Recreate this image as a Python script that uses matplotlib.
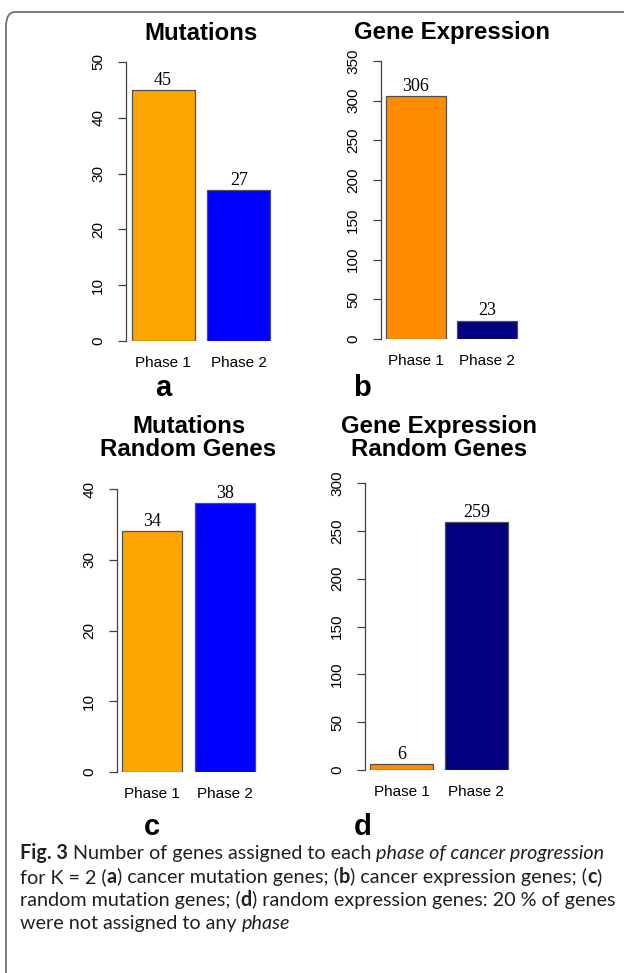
import matplotlib.pyplot as plt
from matplotlib.patches import FancyBboxPatch

phases = ["Phase 1", "Phase 2"]
mut_counts = [45, 27]
expr_counts = [306, 23]
mut_random_counts = [34, 38]
expr_random_counts = [6, 259]

mut_colors = ["#FFA500", "#0000FF"]
expr_colors = ["#FF8C00", "#000080"]

W, H = 624, 973
fig = plt.figure(figsize=(W / 100, H / 100), dpi=100)

# rounded frame, only the top-left corner is visible
frame = FancyBboxPatch((6 / W, -20 / H), 700 / W, (H + 14) / H - 6 / H,
                       boxstyle="round,pad=0,rounding_size=0.015",
                       transform=fig.transFigure, fill=False,
                       edgecolor="#707070", linewidth=1.3)
fig.patches.append(frame)


def panel(box, counts, colors, ymax, ystep, title, title_y, letter, letter_xy):
    left, right, y0, ytop = box
    ax = fig.add_axes([left / W, 1 - y0 / H, (right - left) / W, (y0 - ytop) / H])
    xs = [0.7, 1.9]
    ax.bar(xs, counts, width=1.0, color=colors, edgecolor="#505050", linewidth=0.9)
    for x, v in zip(xs, counts):
        ax.annotate(str(v), (x, v), xytext=(0, 1), textcoords="offset points",
                    ha="center", va="bottom", family="Liberation Serif", fontsize=13)
    ax.set_xlim(0.112, 2.488)
    ax.set_ylim(0, ymax)
    ax.set_yticks(range(0, ymax + 1, ystep))
    ax.set_xticks(xs)
    ax.set_xticklabels(phases, family="Liberation Sans", fontsize=11)
    ax.tick_params(axis="x", length=0, pad=11)
    ax.tick_params(axis="y", length=6, width=0.9, color="#404040", pad=9)
    for lab in ax.get_yticklabels():
        lab.set_rotation(90)
        lab.set_va("center")
        lab.set_ha("right")
        lab.set_family("Liberation Sans")
        lab.set_fontsize(11)
    for s in ["top", "right", "bottom"]:
        ax.spines[s].set_visible(False)
    ax.spines["left"].set_color("#404040")
    ax.spines["left"].set_linewidth(0.9)
    ax.patch.set_visible(False)
    cx = (left + right) / 2 / W
    fig.text(cx, 1 - title_y / H, title, ha="center", va="center",
             family="Liberation Sans", fontweight="bold", fontsize=17.3,
             linespacing=1.02)
    fig.text(letter_xy[0] / W, 1 - letter_xy[1] / H, letter, ha="center",
             va="center", family="Liberation Sans", fontweight="bold", fontsize=21)
    return ax


panel((126, 276, 341, 62), mut_counts, mut_colors, 50, 10,
      "Mutations", 33, "a", (163, 388))
panel((381, 522, 339, 61), expr_counts, expr_colors, 350, 50,
      "Gene Expression", 33, "b", (362, 388))
panel((117, 260, 772, 489), mut_random_counts, mut_colors, 40, 10,
      "Mutations\nRandom Genes", 438, "c", (152, 827))
panel((365, 513, 770, 483), expr_random_counts, expr_colors, 300, 50,
      "Gene Expression\nRandom Genes", 438, "d", (363, 827))

# caption with mixed styles
caption = [
    [("Fig. 3", "bold"), (" Number of genes assigned to each ", "normal"),
     ("phase of cancer progression", "italic")],
    [("for K = 2 (", "normal"), ("a", "bold"), (") cancer mutation genes; (", "normal"),
     ("b", "bold"), (") cancer expression genes; (", "normal"), ("c", "bold"), (")", "normal")],
    [("random mutation genes; (", "normal"), ("d", "bold"),
     (") random expression genes: 20 % of genes", "normal")],
    [("were not assigned to any ", "normal"), ("phase", "italic")],
]
line_y = [853, 877, 900, 923]
renderer = fig.canvas.get_renderer()
for runs, py in zip(caption, line_y):
    x = 20
    for txt, style in runs:
        kw = dict(family="Lato", fontsize=14.2, va="center", ha="left", color="#231f20")
        if style == "bold":
            kw["fontweight"] = "bold"
        if style == "italic":
            kw["fontstyle"] = "italic"
        t = fig.text(x / W, 1 - py / H, txt, **kw)
        bb = t.get_window_extent(renderer)
        x += bb.width

fig.savefig("out.png", dpi=100)
